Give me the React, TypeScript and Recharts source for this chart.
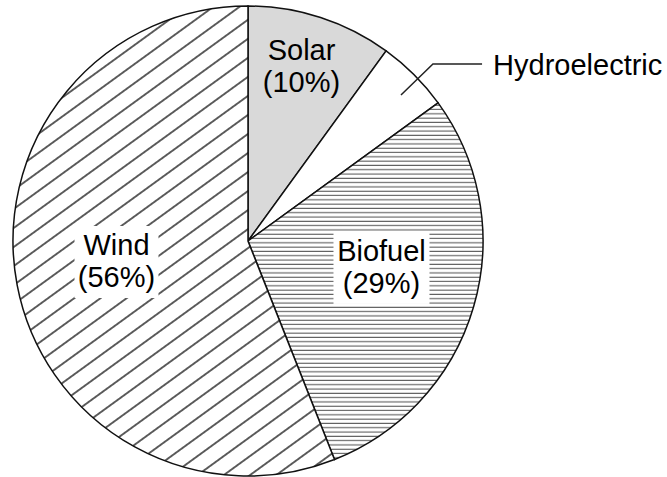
import React from "react";
import { PieChart, Pie, Cell } from "recharts";

const categories = ["Solar", "Hydroelectric", "Biofuel", "Wind"];
const shares = [10, 5, 29, 56];
const fills = ["#d9d9d9", "#ffffff", "url(#hatchH)", "url(#hatchD)"];

const data = categories.map((name, i) => ({ name, value: shares[i] }));

// label anchors relative to pie centre, as fraction of outer radius
const labelPos: Record<string, { dx: number; dy: number; box: number }> = {
  Solar: { dx: 0.2277, dy: -0.702, box: 0 },
  Biofuel: { dx: 0.568, dy: 0.153, box: 96 },
  Wind: { dx: -0.5596, dy: 0.1277, box: 84 },
};

const FONT = "'Liberation Sans', Arial, Helvetica, sans-serif";

const renderLabel = (props: any) => {
  const { cx, cy, outerRadius, name, value } = props;
  const r = outerRadius;
  if (name === "Hydroelectric") {
    const p1 = [cx + 0.651 * r, cy - 0.621 * r];
    const p2 = [cx + 0.787 * r, cy - 0.753 * r];
    const p3 = [cx + 0.996 * r, cy - 0.753 * r];
    return (
      <g>
        <polyline
          points={`${p1[0]},${p1[1]} ${p2[0]},${p2[1]} ${p3[0]},${p3[1]}`}
          fill="none"
          stroke="#222"
          strokeWidth={1.5}
        />
        <text
          x={cx + 1.043 * r}
          y={cy - 0.706 * r}
          fontFamily={FONT}
          fontSize={29}
          fill="#000"
          textAnchor="start"
        >
          {name}
        </text>
      </g>
    );
  }
  const pos = labelPos[name];
  if (!pos) return null;
  const x = cx + pos.dx * r;
  const y = cy + pos.dy * r;
  return (
    <g>
      {pos.box > 0 && (
        <rect x={x - pos.box / 2} y={y - 45} width={pos.box} height={72} fill="#fff" />
      )}
      <text x={x} y={y - 16} fontFamily={FONT} fontSize={29} fill="#000" textAnchor="middle">
        {name}
      </text>
      <text x={x} y={y + 16} fontFamily={FONT} fontSize={29} fill="#000" textAnchor="middle">
        {`(${value}%)`}
      </text>
    </g>
  );
};

export default function App() {
  return (
    <div style={{ position: "absolute", left: 0, top: 0, width: 667, height: 477, background: "#fff" }}>
      <PieChart width={667} height={477} margin={{ top: 0, right: 0, bottom: 0, left: 0 }}>
        <defs>
          <pattern id="hatchH" patternUnits="userSpaceOnUse" width={10} height={4.3}>
            <rect width={10} height={4.3} fill="#fff" />
            <path d="M0,2 H10" stroke="#4a4a4a" strokeWidth={1} />
          </pattern>
          <pattern
            id="hatchD"
            patternUnits="userSpaceOnUse"
            width={10}
            height={15.4}
            patternTransform="rotate(-36)"
          >
            <rect width={10} height={15.4} fill="#fff" />
            <path d="M-1,7.7 H11" stroke="#000" strokeWidth={1.25} />
          </pattern>
        </defs>
        <Pie
          data={data}
          dataKey="value"
          nameKey="name"
          cx={248}
          cy={241}
          outerRadius={235}
          startAngle={90}
          endAngle={-270}
          stroke="#111"
          strokeWidth={1.5}
          label={renderLabel}
          labelLine={false}
          isAnimationActive={false}
        >
          {data.map((d, i) => (
            <Cell key={d.name} fill={fills[i]} stroke="#111" strokeWidth={1.5} />
          ))}
        </Pie>
      </PieChart>
    </div>
  );
}
